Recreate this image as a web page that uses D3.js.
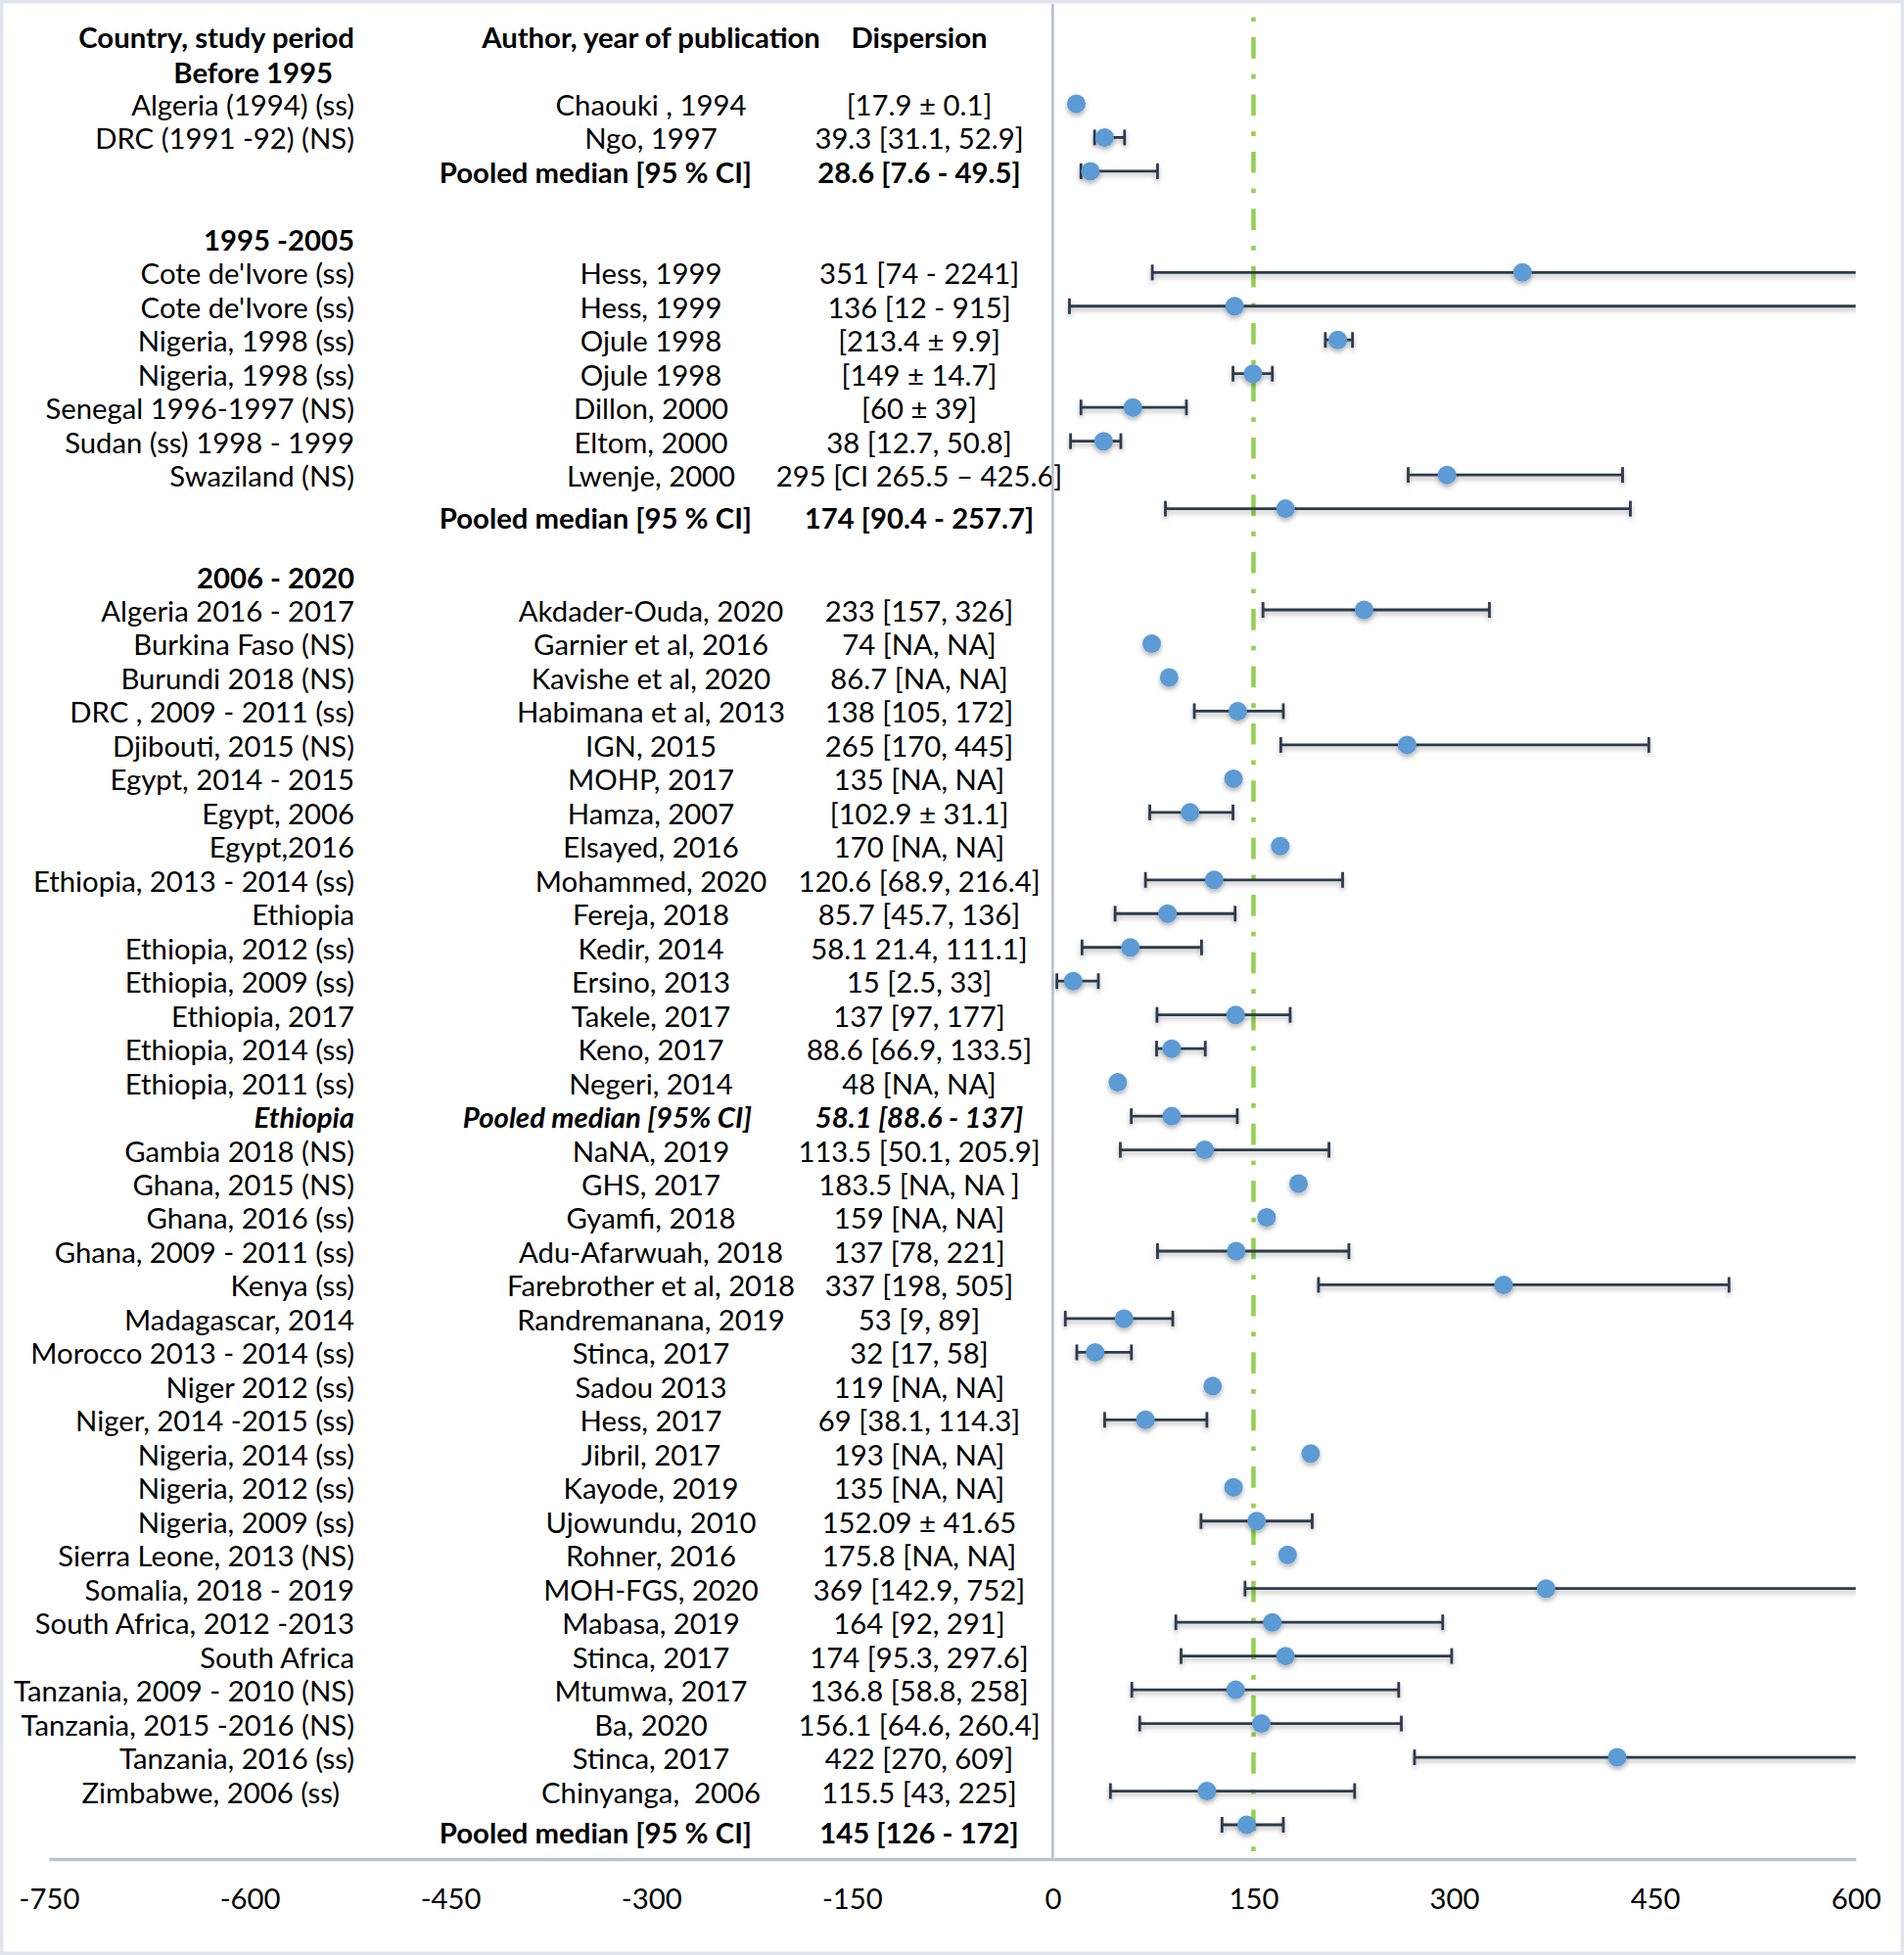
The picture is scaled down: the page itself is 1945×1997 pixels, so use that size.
<!DOCTYPE html>
<html>
<head>
<meta charset="UTF-8">
<title>Forest plot</title>
<script src="https://cdnjs.cloudflare.com/ajax/libs/d3/7.8.5/d3.min.js"></script>
<style>
body { margin: 0; background: #fff; }
text { font-family: Lato, "Open Sans", sans-serif; font-size: 28.5px; fill: #000; white-space: pre; }
.b { font-weight: bold; }
.bi { font-weight: bold; font-style: italic; }
.bar { stroke: #2f3a4b; stroke-width: 2.8px; fill: none; }
.med { fill: #5b9bd5; }
</style>
</head>
<body>
<svg id="chart" width="1945" height="1997"></svg>
<script>
// one entry per table row, starting with the "Before 1995" heading (row -1)
var rowKind = ["group","study","study","pooled","blank",
  "group","study","study","study","study","study","study","study","pooled","blank",
  "group","study","study","study","study","study","study","study","study","study","study","study","study",
  "study","study","study","pooledEth","study","study","study","study","study","study","study","study","study",
  "study","study","study","study","study","study","study","study","study","study","study","pooled"];

var countries = ["Before 1995","Algeria (1994) (ss)","DRC (1991 -92) (NS)","","",
  "1995 -2005","Cote de'Ivore (ss)","Cote de'Ivore (ss)","Nigeria, 1998 (ss)","Nigeria, 1998 (ss)",
  "Senegal 1996-1997 (NS)","Sudan (ss) 1998 - 1999","Swaziland (NS)","","",
  "2006 - 2020","Algeria 2016 - 2017","Burkina Faso (NS)","Burundi 2018 (NS)","DRC , 2009 - 2011 (ss)",
  "Djibouti, 2015 (NS)","Egypt, 2014 - 2015","Egypt, 2006","Egypt,2016","Ethiopia, 2013 - 2014 (ss)",
  "Ethiopia","Ethiopia, 2012 (ss)","Ethiopia, 2009 (ss)","Ethiopia, 2017","Ethiopia, 2014 (ss)",
  "Ethiopia, 2011 (ss)","Ethiopia","Gambia 2018 (NS)","Ghana, 2015 (NS)","Ghana, 2016 (ss)",
  "Ghana, 2009 - 2011 (ss)","Kenya (ss)","Madagascar, 2014","Morocco 2013 - 2014 (ss)","Niger 2012 (ss)",
  "Niger, 2014 -2015 (ss)","Nigeria, 2014 (ss)","Nigeria, 2012 (ss)","Nigeria, 2009 (ss)","Sierra Leone, 2013 (NS)",
  "Somalia, 2018 - 2019","South Africa, 2012 -2013","South Africa","Tanzania, 2009 - 2010 (NS)",
  "Tanzania, 2015 -2016 (NS)","Tanzania, 2016 (ss)","Zimbabwe, 2006 (ss)  ",""];

var authors = ["","Chaouki , 1994","Ngo, 1997","Pooled median [95 % CI]","",
  "","Hess, 1999","Hess, 1999","Ojule 1998","Ojule 1998","Dillon, 2000","Eltom, 2000","Lwenje, 2000",
  "Pooled median [95 % CI]","",
  "","Akdader-Ouda, 2020","Garnier et al, 2016","Kavishe et al, 2020","Habimana et al, 2013","IGN, 2015",
  "MOHP, 2017","Hamza, 2007","Elsayed, 2016","Mohammed, 2020","Fereja, 2018","Kedir, 2014","Ersino, 2013",
  "Takele, 2017","Keno, 2017","Negeri, 2014","Pooled median [95% CI]","NaNA, 2019","GHS, 2017","Gyamfi, 2018",
  "Adu-Afarwuah, 2018","Farebrother et al, 2018","Randremanana, 2019","Stinca, 2017","Sadou 2013","Hess, 2017",
  "Jibril, 2017","Kayode, 2019","Ujowundu, 2010","Rohner, 2016","MOH-FGS, 2020","Mabasa, 2019","Stinca, 2017",
  "Mtumwa, 2017","Ba, 2020","Stinca, 2017","Chinyanga,  2006","Pooled median [95 % CI]"];

var dispersions = ["","[17.9 ± 0.1]","39.3 [31.1, 52.9]","28.6 [7.6 - 49.5]","",
  "","351 [74 - 2241]","136 [12 - 915]","[213.4 ± 9.9]","[149 ± 14.7]","[60 ± 39]","38 [12.7, 50.8]",
  "295 [CI 265.5 – 425.6]","174 [90.4 - 257.7]","",
  "","233 [157, 326]","74 [NA, NA]","86.7 [NA, NA]","138 [105, 172]","265 [170, 445]","135 [NA, NA]",
  "[102.9 ± 31.1]","170 [NA, NA]","120.6 [68.9, 216.4]","85.7 [45.7, 136]","58.1 21.4, 111.1]","15 [2.5, 33]",
  "137 [97, 177]","88.6 [66.9, 133.5]","48 [NA, NA]","58.1 [88.6 - 137]","113.5 [50.1, 205.9]","183.5 [NA, NA ]",
  "159 [NA, NA]","137 [78, 221]","337 [198, 505]","53 [9, 89]","32 [17, 58]","119 [NA, NA]","69 [38.1, 114.3]",
  "193 [NA, NA]","135 [NA, NA]","152.09 ± 41.65","175.8 [NA, NA]","369 [142.9, 752]","164 [92, 291]",
  "174 [95.3, 297.6]","136.8 [58.8, 258]","156.1 [64.6, 260.4]","422 [270, 609]","115.5 [43, 225]","145 [126 - 172]"];

// plotted values
var medians = [null,17.6,38.8,28.2,null,null,351,135.9,213,149.6,59.9,38,294.6,173.9,null,
  null,232.7,74,87,138.3,264.8,135.1,102.6,170,120.6,85.8,58,15.3,136.7,88.9,48.6,88.9,113.6,183.7,159.8,
  137.1,336.9,53.3,31.7,119.5,69.3,192.7,135.1,152.4,175.5,368.6,164.1,173.9,136.7,155.9,421.8,115.2,144.9];
var lows = [null,null,31.3,21.1,null,null,74.4,12.5,203.7,134.7,21.1,13.3,265.6,84.2,null,
  null,157.1,null,null,105.8,170.4,null,72.5,null,69.3,46.6,21.9,3.1,77.9,77.6,null,58.7,50.5,null,null,
  78.3,198.6,9.4,18,null,38.8,null,null,110.8,null,143.7,92,95.9,59.1,65,270.3,43.1,126.5];
var highs = [null,null,53.7,78.3,null,null,2241,915,224,164.1,99.9,50.9,425.8,431.6,null,
  null,326.3,null,null,172.3,445.4,null,134.7,null,216.6,136.3,111.2,34.1,177.4,114,null,137.9,206.4,null,null,
  221.3,505.3,89.7,58.8,null,115.2,null,null,193.9,null,752,291.4,298.1,258.5,260.5,609,225.6,172.3];

var headers = ["Country, study period","Author, year of publication","Dispersion"];
var xTicks = [-750,-600,-450,-300,-150,0,150,300,450,600];
var refValue = 150;

var W = 1945, H = 1997;
var svg = d3.select("#chart");

var x = d3.scaleLinear().domain([-750, 600]).range([50, 1895.7]);
var y = d3.scaleLinear().domain([-2, 51]).range([37, 1864]);
var axisY = 1899;

var rows = rowKind.map(function(k, i) {
  return {kind: k, row: i - 1, country: countries[i], author: authors[i], disp: dispersions[i],
          med: medians[i], lo: lows[i], hi: highs[i]};
});

// frame
svg.append("rect").attr("x", 0).attr("y", 0).attr("width", W).attr("height", H)
   .attr("fill", "#fff").attr("stroke", "#e1e6ec").attr("stroke-width", 7);

var defs = svg.append("defs");
var f = defs.append("filter").attr("id", "shadow").attr("x", "-20%").attr("y", "-50%")
            .attr("width", "140%").attr("height", "200%");
f.append("feDropShadow").attr("dx", 0).attr("dy", 3).attr("stdDeviation", 2.5)
 .attr("flood-color", "#000").attr("flood-opacity", 0.3);
defs.append("clipPath").attr("id", "plotclip").append("rect")
    .attr("x", x(0)).attr("y", 0).attr("width", x(600) - x(0)).attr("height", axisY);

// the original face is a narrow one: squeeze the installed font to the same width
var probe = svg.append("text").text("Algeria (1994) (ss)");
var sx = 228 / probe.node().getComputedTextLength();
probe.remove();
function place(px, py) { return "translate(" + px + "," + py + ") scale(" + sx + ",1)"; }

// table text
var colCountry = 362, colAuthor = 665, colPooled = 768, colDisp = 939;
var headingShift = {"Before 1995": [-22, 2]};
var pooledDrop = {12: 8, 51: 7};
function rowY(d) { return y(d.row) + 2 + (pooledDrop[d.row] || 0); }

svg.append("g").selectAll("text").data(headers).join("text")
   .attr("class", "b")
   .attr("transform", function(d, i) { return place([colCountry, colAuthor, colDisp][i], y(-2) + 2); })
   .attr("dy", "0.35em")
   .attr("text-anchor", function(d, i) { return i == 0 ? "end" : "middle"; })
   .text(function(d) { return d; });

var txt = svg.append("g");
txt.selectAll("text.country").data(rows.filter(function(d) { return d.country; })).join("text")
   .attr("class", function(d) { return d.kind == "group" ? "country b" : d.kind == "pooledEth" ? "country bi" : "country"; })
   .attr("transform", function(d) {
     var s = headingShift[d.country] || [0, 0];
     return place(colCountry + s[0], rowY(d) + s[1]);
   })
   .attr("dy", "0.35em")
   .attr("text-anchor", "end")
   .text(function(d) { return d.country; });

txt.selectAll("text.author").data(rows.filter(function(d) { return d.author; })).join("text")
   .attr("class", function(d) { return d.kind == "pooled" ? "author b" : d.kind == "pooledEth" ? "author bi" : "author"; })
   .attr("transform", function(d) { return place(d.kind == "study" ? colAuthor : colPooled, rowY(d)); })
   .attr("dy", "0.35em")
   .attr("text-anchor", function(d) { return d.kind == "study" ? "middle" : "end"; })
   .text(function(d) { return d.author; });

txt.selectAll("text.disp").data(rows.filter(function(d) { return d.disp; })).join("text")
   .attr("class", function(d) { return d.kind == "pooled" ? "disp b" : d.kind == "pooledEth" ? "disp bi" : "disp"; })
   .attr("transform", function(d) { return place(colDisp, rowY(d)); })
   .attr("dy", "0.35em")
   .attr("text-anchor", "middle")
   .text(function(d) { return d.disp; });

// axes
svg.append("line").attr("x1", x(0)).attr("x2", x(0)).attr("y1", 4).attr("y2", axisY)
   .attr("stroke", "#b4c0d0").attr("stroke-width", 2.5);

var xAxis = d3.axisBottom(x).tickValues(xTicks).tickSize(0).tickPadding(0)
              .tickFormat(function(d) { return String(d); });
var gx = svg.append("g").attr("transform", "translate(0," + axisY + ")").call(xAxis);
gx.select(".domain").attr("stroke", "#b7c1cf").attr("stroke-width", 3.5);
gx.selectAll(".tick text").attr("font-size", null).attr("font-family", null).attr("fill", "#000")
  .attr("y", null).attr("dy", "0.35em")
  .attr("transform", "translate(0,41) scale(" + sx + ",1)");

// reference line at 150
svg.append("line").attr("x1", x(refValue)).attr("x2", x(refValue)).attr("y1", 17.4).attr("y2", axisY)
   .attr("stroke", "#92d050").attr("stroke-width", 4.5)
   .attr("stroke-dasharray", "4.7,16,21.7,16");

// error bars and medians
var marks = svg.append("g").attr("clip-path", "url(#plotclip)");
var withCI = rows.filter(function(d) { return d.lo != null; });
var bars = marks.selectAll("g.ci").data(withCI).join("g").attr("class", "ci").attr("filter", "url(#shadow)");
bars.append("line").attr("class", "bar")
    .attr("x1", function(d) { return x(d.lo); }).attr("x2", function(d) { return x(d.hi); })
    .attr("y1", function(d) { return y(d.row); }).attr("y2", function(d) { return y(d.row); });
bars.append("line").attr("class", "bar")
    .attr("x1", function(d) { return x(d.lo); }).attr("x2", function(d) { return x(d.lo); })
    .attr("y1", function(d) { return y(d.row) - 8; }).attr("y2", function(d) { return y(d.row) + 8; });
bars.append("line").attr("class", "bar")
    .attr("x1", function(d) { return x(d.hi); }).attr("x2", function(d) { return x(d.hi); })
    .attr("y1", function(d) { return y(d.row) - 8; }).attr("y2", function(d) { return y(d.row) + 8; });

marks.selectAll("circle").data(rows.filter(function(d) { return d.med != null; })).join("circle")
     .attr("class", "med").attr("filter", "url(#shadow)")
     .attr("cx", function(d) { return x(d.med); })
     .attr("cy", function(d) { return y(d.row); })
     .attr("r", 9.5);
</script>
</body>
</html>
